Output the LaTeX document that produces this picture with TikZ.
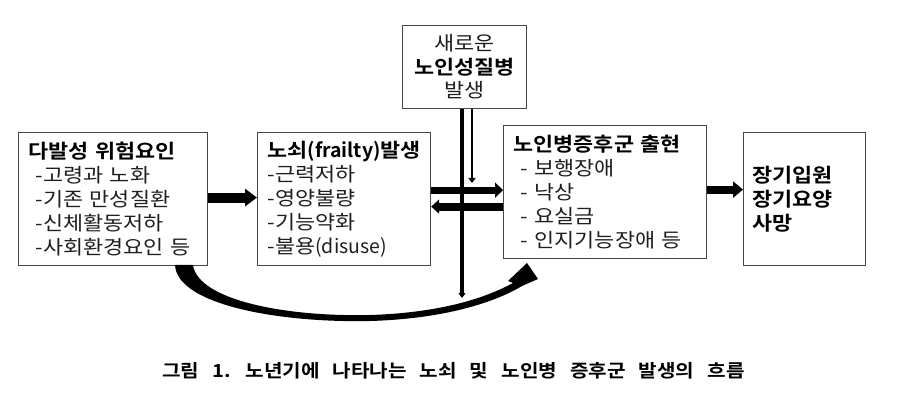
\documentclass[tikz,border=0pt]{standalone}
\usepackage{fontspec}
\setmainfont{Noto Sans CJK KR}[BoldFont={Noto Sans CJK KR Bold}, FakeStretch=1.12]
\usetikzlibrary{arrows.meta}
\newcommand\bodyfont{\fontsize{19.5}{24}\selectfont\spaceskip=9pt\relax}
\newcommand\capfont{\fontsize{18}{22}\selectfont\bfseries\spaceskip=13pt\relax}
\newcommand\ind{\hspace*{7pt}}
\newcommand\latn[1]{{\addfontfeature{FakeStretch=1.0}#1}}
\begin{document}
\begin{tikzpicture}[x=1pt,y=-1pt,
  box/.style={draw=black!72, line width=1.2pt, inner xsep=10pt, inner ysep=0pt,
    minimum height=133pt, align=left, anchor=north west, font=\bodyfont, text=black!88},
  fat/.style={line width=#1, draw=black},
  thin/.style={line width=#1, draw=black, -{Triangle[length=5pt,width=7pt]}}
]
\useasboundingbox[fill=white] (0,0) rectangle (899,403);

% boxes
\node[box, text width=169pt] (b1) at (18,132)
  {\textbf{\color{black}다발성 위험요인}\\
   \ind-고령과 노화\\ \ind-기존 만성질환\\ \ind-신체활동저하\\ \ind-사회환경요인 등};
\node[box, text width=153pt] (b2) at (257,132)
  {\textbf{\color{black}노쇠\latn{(frailty)}발생}\\
   -근력저하\\ -영양불량\\ -기능약화\\ -불용\latn{(disuse)}};
\node[box, minimum width=124pt, minimum height=83pt, align=center,
      inner xsep=0pt, font=\fontsize{19.5}{23.5}\selectfont] (t) at (402,25)
  {새로운\\ \textbf{\color{black}노인성질병}\\ 발생};
\node[box, text width=183pt] (b3) at (503,125)
  {\textbf{\color{black}노인병증후군 출현}\\
   \ind- 보행장애\\ \ind- 낙상\\ \ind- 요실금\\ \ind- 인지기능장애 등};
\node[box, text width=104pt, inner xsep=9pt, text=black] (b4) at (743,132)
  {\textbf{장기입원}\\ \textbf{장기요양}\\ \textbf{사망}};

% straight thick arrows
\draw[fat=10pt, -{Triangle[length=12pt,width=17pt]}]
  ([yshift=1.5pt]b1.east) -- ([yshift=1.5pt]b1.east -| b2.west);
\draw[fat=7pt, -{Triangle[length=8pt,width=15pt]}]
  ([yshift=9pt]b2.east) -- ([yshift=9pt]b2.east -| b3.west);
\draw[fat=8pt, -{Triangle[length=8pt,width=14pt]}]
  ([yshift=-7.5pt]b2.east -| b3.west) -- ([yshift=-7.5pt]b2.east);
\draw[fat=8pt, -{Triangle[length=10pt,width=16pt]}]
  ([yshift=9.5pt]b4.west -| b3.east) -- ([yshift=9.5pt]b4.west);

% vertical lines from the top box
\coordinate (v1end) at (462,298);
\coordinate (v2end) at (472,183);
\draw[thin=3.5pt] (t.south -| v1end) -- (v1end);
\draw[thin=2.6pt] (t.south -| v2end) -- (v2end);

% curved tapered arrow from b1 to b3
\fill[black] (175,265) .. controls (177,305) and (280,323) .. (370,321)
  .. controls (440,319) and (492,304) .. (522,286)
  -- (538,279) -- (527,263) -- (508,281) -- (513,283)
  .. controls (482,300) and (435,313) .. (370,315)
  .. controls (285,317) and (198,300) .. (193,265) -- cycle;

% caption
\node[font=\capfont, inner sep=0pt] (cap) at (453.5,371)
  {그림 1. 노년기에 나타나는 노쇠 및 노인병 증후군 발생의 흐름};
\end{tikzpicture}
\end{document}
